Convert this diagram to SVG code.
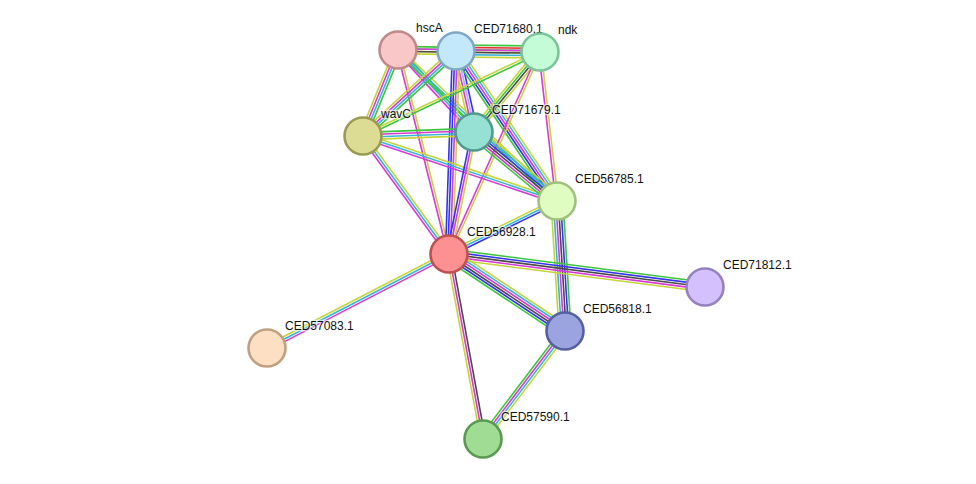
<svg xmlns="http://www.w3.org/2000/svg" width="976" height="484" viewBox="0 0 976 484">
<style>
line{vector-effect:non-scaling-stroke;stroke-width:1.6;fill:none}
.G{stroke:#3cc63c}.B{stroke:#3434f0}.K{stroke:#4a4a4a}.M{stroke:#d838d8}.C{stroke:#36b4d8}.Y{stroke:#c4d43a}.R{stroke:#e83030}.L{stroke:#a8a8f8}
circle{stroke-width:2.6}
text{font-family:"Liberation Sans",Arial,sans-serif;font-size:12px;fill:#111;paint-order:stroke;stroke:#fff;stroke-width:2.5px;stroke-opacity:0.6}
</style>
<rect width="976" height="484" fill="#fff"/>
<g id="edges">
<g transform="translate(398 50) rotate(0.81) scale(142 1)"><line x2="1" y1="-1.2" y2="-1.2" class="G"/><line x2="1" y1="1.2" y2="1.2" class="Y"/></g>
<g transform="translate(398 50) rotate(0.99) scale(58 1)"><line x2="1" y1="-3.6" y2="-3.6" class="G"/><line x2="1" y1="-1.2" y2="-1.2" class="M"/><line x2="1" y1="1.2" y2="1.2" class="K"/><line x2="1" y1="3.6" y2="3.6" class="Y"/></g>
<g transform="translate(456 51) rotate(0.68) scale(84 1)"><line x2="1" y1="-6" y2="-6" class="G"/><line x2="1" y1="-3.6" y2="-3.6" class="R"/><line x2="1" y1="-1.2" y2="-1.2" class="M"/><line x2="1" y1="1.2" y2="1.2" class="K"/><line x2="1" y1="3.6" y2="3.6" class="C"/><line x2="1" y1="6" y2="6" class="Y"/></g>
<g transform="translate(398 50) rotate(112.15) scale(92.85 1)"><line x2="1" y1="-3.6" y2="-3.6" class="G"/><line x2="1" y1="-1.2" y2="-1.2" class="C"/><line x2="1" y1="1.2" y2="1.2" class="M"/><line x2="1" y1="3.6" y2="3.6" class="Y"/></g>
<g transform="translate(398 50) rotate(47.17) scale(111.8 1)"><line x2="1" y1="-2.4" y2="-2.4" class="G"/><line x2="1" y1="0" y2="0" class="C"/><line x2="1" y1="2.4" y2="2.4" class="M"/></g>
<g transform="translate(398 50) rotate(75.96) scale(210.3 1)"><line x2="1" y1="-1.2" y2="-1.2" class="Y"/><line x2="1" y1="1.2" y2="1.2" class="M"/></g>
<g transform="translate(398 50) rotate(43.52) scale(219.3 1)"><line x2="1" y1="-2.4" y2="-2.4" class="Y"/><line x2="1" y1="0" y2="0" class="C"/><line x2="1" y1="2.4" y2="2.4" class="G"/></g>
<g transform="translate(456 51) rotate(137.57) scale(126 1)"><line x2="1" y1="-3.6" y2="-3.6" class="G"/><line x2="1" y1="-1.2" y2="-1.2" class="C"/><line x2="1" y1="1.2" y2="1.2" class="M"/><line x2="1" y1="3.6" y2="3.6" class="Y"/></g>
<g transform="translate(456 51) rotate(77.47) scale(83 1)"><line x2="1" y1="-3.6" y2="-3.6" class="B"/><line x2="1" y1="-1.2" y2="-1.2" class="L"/><line x2="1" y1="1.2" y2="1.2" class="M"/><line x2="1" y1="3.6" y2="3.6" class="Y"/></g>
<g transform="translate(456 51) rotate(91.97) scale(203.1 1)"><line x2="1" y1="-3.6" y2="-3.6" class="Y"/><line x2="1" y1="-1.2" y2="-1.2" class="M"/><line x2="1" y1="1.2" y2="1.2" class="B"/><line x2="1" y1="3.6" y2="3.6" class="B"/></g>
<g transform="translate(456 51) rotate(56.04) scale(180.8 1)"><line x2="1" y1="-4.8" y2="-4.8" class="Y"/><line x2="1" y1="-2.4" y2="-2.4" class="C"/><line x2="1" y1="0" y2="0" class="M"/><line x2="1" y1="2.4" y2="2.4" class="B"/><line x2="1" y1="4.8" y2="4.8" class="G"/></g>
<g transform="translate(540 52) rotate(154.61) scale(195.9 1)"><line x2="1" y1="-1.2" y2="-1.2" class="G"/><line x2="1" y1="1.2" y2="1.2" class="Y"/></g>
<g transform="translate(540 52) rotate(129.52) scale(103.7 1)"><line x2="1" y1="-3.6" y2="-3.6" class="Y"/><line x2="1" y1="-1.2" y2="-1.2" class="K"/><line x2="1" y1="1.2" y2="1.2" class="G"/><line x2="1" y1="3.6" y2="3.6" class="Y"/></g>
<g transform="translate(540 52) rotate(114.25) scale(221.6 1)"><line x2="1" y1="-1.2" y2="-1.2" class="Y"/><line x2="1" y1="1.2" y2="1.2" class="M"/></g>
<g transform="translate(540 52) rotate(83.49) scale(150 1)"><line x2="1" y1="-1.2" y2="-1.2" class="Y"/><line x2="1" y1="1.2" y2="1.2" class="M"/></g>
<g transform="translate(363 136) rotate(-2.06) scale(111.1 1)"><line x2="1" y1="-3.6" y2="-3.6" class="G"/><line x2="1" y1="-1.2" y2="-1.2" class="M"/><line x2="1" y1="1.2" y2="1.2" class="C"/><line x2="1" y1="3.6" y2="3.6" class="Y"/></g>
<g transform="translate(363 136) rotate(18.52) scale(204.6 1)"><line x2="1" y1="-2.4" y2="-2.4" class="Y"/><line x2="1" y1="0" y2="0" class="C"/><line x2="1" y1="2.4" y2="2.4" class="M"/></g>
<g transform="translate(363 136) rotate(53.92) scale(146 1)"><line x2="1" y1="-2.4" y2="-2.4" class="Y"/><line x2="1" y1="0" y2="0" class="C"/><line x2="1" y1="2.4" y2="2.4" class="M"/></g>
<g transform="translate(474 132) rotate(39.74) scale(107.9 1)"><line x2="1" y1="-6" y2="-6" class="Y"/><line x2="1" y1="-3.6" y2="-3.6" class="C"/><line x2="1" y1="-1.2" y2="-1.2" class="B"/><line x2="1" y1="1.2" y2="1.2" class="K"/><line x2="1" y1="3.6" y2="3.6" class="M"/><line x2="1" y1="6" y2="6" class="G"/></g>
<g transform="translate(474 132) rotate(101.58) scale(124.5 1)"><line x2="1" y1="-2.4" y2="-2.4" class="Y"/><line x2="1" y1="0" y2="0" class="M"/><line x2="1" y1="2.4" y2="2.4" class="B"/></g>
<g transform="translate(557 201) rotate(153.86) scale(120.3 1)"><line x2="1" y1="-2.4" y2="-2.4" class="B"/><line x2="1" y1="0" y2="0" class="C"/><line x2="1" y1="2.4" y2="2.4" class="Y"/></g>
<g transform="translate(557 201) rotate(86.48) scale(130.2 1)"><line x2="1" y1="-6" y2="-6" class="G"/><line x2="1" y1="-3.6" y2="-3.6" class="B"/><line x2="1" y1="-1.2" y2="-1.2" class="K"/><line x2="1" y1="1.2" y2="1.2" class="M"/><line x2="1" y1="3.6" y2="3.6" class="C"/><line x2="1" y1="6" y2="6" class="Y"/></g>
<g transform="translate(449 254) rotate(7.35) scale(258.1 1)"><line x2="1" y1="-4.8" y2="-4.8" class="G"/><line x2="1" y1="-2.4" y2="-2.4" class="B"/><line x2="1" y1="0" y2="0" class="K"/><line x2="1" y1="2.4" y2="2.4" class="M"/><line x2="1" y1="4.8" y2="4.8" class="Y"/></g>
<g transform="translate(449 254) rotate(33.57) scale(139.2 1)"><line x2="1" y1="-6" y2="-6" class="Y"/><line x2="1" y1="-3.6" y2="-3.6" class="C"/><line x2="1" y1="-1.2" y2="-1.2" class="M"/><line x2="1" y1="1.2" y2="1.2" class="K"/><line x2="1" y1="3.6" y2="3.6" class="B"/><line x2="1" y1="6" y2="6" class="G"/></g>
<g transform="translate(449 254) rotate(152.69) scale(204.8 1)"><line x2="1" y1="-2.4" y2="-2.4" class="M"/><line x2="1" y1="0" y2="0" class="C"/><line x2="1" y1="2.4" y2="2.4" class="Y"/></g>
<g transform="translate(449 254) rotate(79.59) scale(188.1 1)"><line x2="1" y1="-2.4" y2="-2.4" class="K"/><line x2="1" y1="0" y2="0" class="M"/><line x2="1" y1="2.4" y2="2.4" class="Y"/></g>
<g transform="translate(565 331) rotate(127.21) scale(135.6 1)"><line x2="1" y1="-3.6" y2="-3.6" class="Y"/><line x2="1" y1="-1.2" y2="-1.2" class="C"/><line x2="1" y1="1.2" y2="1.2" class="M"/><line x2="1" y1="3.6" y2="3.6" class="G"/></g>
</g>
<g id="hscA"><circle cx="398" cy="50" r="18.5" fill="#f8c8c8" stroke="#c08888"/><text x="416" y="32">hscA</text></g>
<g id="CED71680.1"><circle cx="456" cy="51" r="18.5" fill="#c4e8fb" stroke="#80a8c4"/><text x="474" y="33">CED71680.1</text></g>
<g id="ndk"><circle cx="540" cy="52" r="18.5" fill="#c4fcd8" stroke="#7cc49a"/><text x="558" y="34">ndk</text></g>
<g id="wavC"><circle cx="363" cy="136" r="18.5" fill="#dcdc94" stroke="#9a9a55"/><text x="381" y="118">wavC</text></g>
<g id="CED71679.1"><circle cx="474" cy="132" r="18.5" fill="#96e0d4" stroke="#509a8e"/><text x="492" y="114">CED71679.1</text></g>
<g id="CED56785.1"><circle cx="557" cy="201" r="18.5" fill="#e0fcc0" stroke="#a0c080"/><text x="575" y="183">CED56785.1</text></g>
<g id="CED56928.1"><circle cx="449" cy="254" r="18.5" fill="#fd9090" stroke="#c05050"/><text x="467" y="236">CED56928.1</text></g>
<g id="CED71812.1"><circle cx="705" cy="287" r="18.5" fill="#d4c0fc" stroke="#9580c0"/><text x="723" y="269">CED71812.1</text></g>
<g id="CED56818.1"><circle cx="565" cy="331" r="18.5" fill="#9ca4e0" stroke="#5560a0"/><text x="583" y="313">CED56818.1</text></g>
<g id="CED57083.1"><circle cx="267" cy="348" r="18.5" fill="#fde0c4" stroke="#c0a080"/><text x="285" y="330">CED57083.1</text></g>
<g id="CED57590.1"><circle cx="483" cy="439" r="18.5" fill="#a0dc94" stroke="#5a9a50"/><text x="501" y="421">CED57590.1</text></g>
</svg>
